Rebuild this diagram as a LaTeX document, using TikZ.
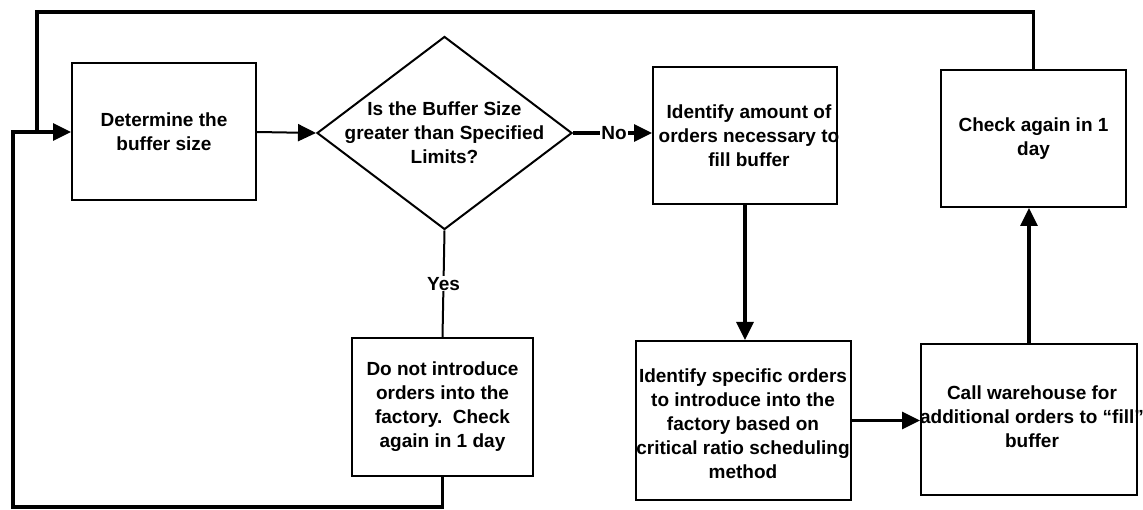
\documentclass[tikz,border=0pt]{standalone}
\usepackage{fontspec}
\setmainfont{Liberation Sans}
\usetikzlibrary{shapes.geometric,arrows.meta}
\begin{document}
\begin{tikzpicture}[x=1pt,y=-1pt,
  every node/.style={font=\bfseries\fontsize{19}{24}\selectfont},
  stepbox/.style 2 args={draw,line width=2pt,rectangle,inner sep=0pt,
    minimum width=#1,minimum height=#2},
  steptext/.style={align=center,inner sep=0pt},
  decision/.style={draw,line width=2pt,diamond,inner sep=0pt,minimum width=255pt,minimum height=193pt},
  thinline/.style={line width=2pt},
  thickline/.style={line width=3.3pt},
  tip/.style={-{Triangle[length=18pt,width=17pt]}},
  inlabel/.style={fill=white,inner sep=1pt}]
\useasboundingbox (0,0) rectangle (1143,510);

% process steps (box outline, text set on top of it)
\node[stepbox={184pt}{137pt}] (A) at (164,132) {};
\node[steptext] (Atext) at (A.center) {Determine the\\buffer size};
\node[decision] (Q) at (444.5,133) {};
\node[steptext] (Qtext) at (Q.center) {Is the Buffer Size\\greater than Specified\\Limits?};
\node[stepbox={184pt}{137pt}] (B) at (745,135.5) {};
\node[steptext] (Btext) at ([xshift=4pt]B.center) {Identify amount of\\orders necessary to\\fill buffer};
\node[stepbox={185pt}{137pt}] (D) at (1033.5,138.5) {};
\node[steptext] (Dtext) at (D.center) {Check again in 1\\day};
\node[stepbox={181pt}{138pt}] (F) at (442.5,407) {};
\node[steptext] (Ftext) at (F.center) {Do not introduce\\orders into the\\factory.\ \ Check\\again in 1 day};
\node[stepbox={215pt}{159pt}] (C) at (743,420.5) {};
\node[steptext] (Ctext) at ([yshift=-3pt]C.center) {Identify specific orders\\to introduce into the\\factory based on\\critical ratio scheduling\\method};
\node[stepbox={216pt}{151pt}] (E) at (1029,419.5) {};
\node[steptext] (Etext) at ([xshift=3pt,yshift=3pt]E.center) {Call warehouse for\\additional orders to “fill”\\buffer};

% routing levels of the feedback loops
\coordinate (topy) at (0,12);
\coordinate (boty) at (0,507);
\coordinate (outerx) at (13,0);
\coordinate (innerx) at (37,0);

% connectors
\draw[thinline,tip] (A.east) -- (Q.west);
\draw[thickline,tip] (Q.east) -- node[inlabel,pos=0.52] (no) {No} (B.west |- Q.east);
\draw[thinline] (Q.south) -- node[inlabel,pos=0.5] (yes) {Yes} (F.north);
\draw[thickline,tip] (B.south) -- (B.south |- C.north);
\draw[thickline,tip] (C.east) -- (C.east -| E.west);
\draw[thickline,tip] (E.north) -- (E.north |- D.south);
\draw[thickline] (D.north) -- (D.north |- topy) -| (innerx |- A.west);
\draw[thickline,tip] (F.south) -- (F.south |- boty) -| (outerx |- A.west) -- (A.west);
\end{tikzpicture}
\end{document}
